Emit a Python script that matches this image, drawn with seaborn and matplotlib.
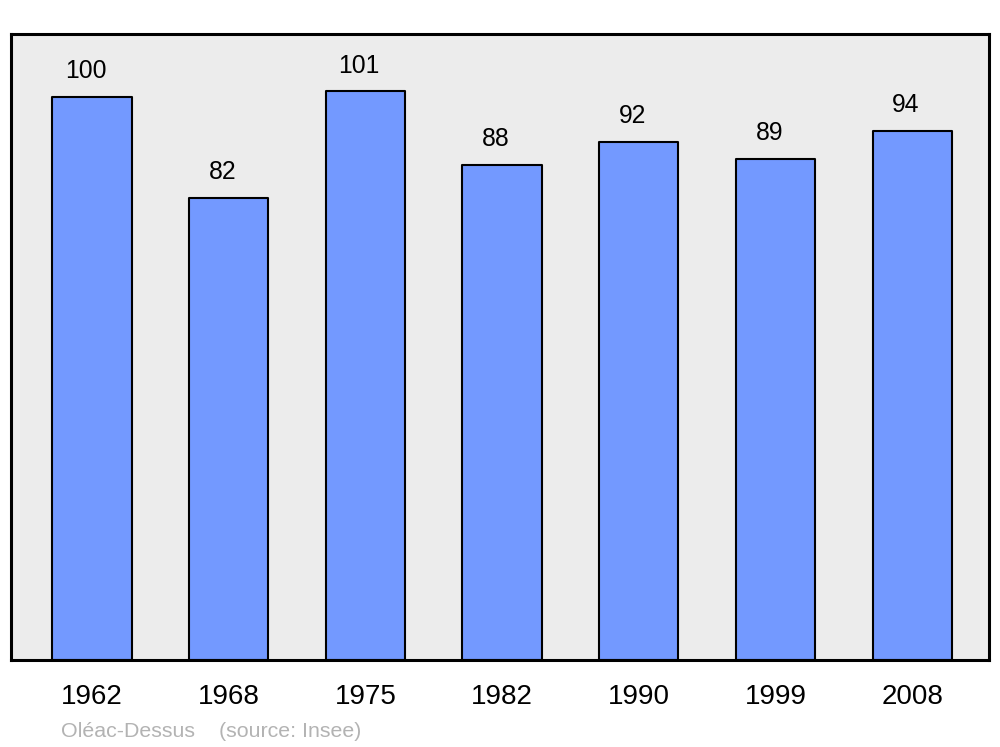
import seaborn as sns
import matplotlib.pyplot as plt
import pandas as pd

years = ["1962", "1968", "1975", "1982", "1990", "1999", "2008"]
population = [100, 82, 101, 88, 92, 89, 94]

df = pd.DataFrame({"year": years, "pop": population})

sns.set_style("white")
plt.rcParams['font.family'] = ['Liberation Sans', 'DejaVu Sans']

fig = plt.figure(figsize=(10, 7.47), dpi=100)
ax = fig.add_axes([0.011, 0.1165, 0.978, 0.838])
ax.set_facecolor("#ececec")

sns.barplot(data=df, x="year", y="pop", color="#7399ff", saturation=1,
            width=0.58, edgecolor="black", linewidth=1.5, ax=ax)
for p in ax.patches:
    p.set_joinstyle("round")

# value labels sit a little left of the bar centre
for i, v in enumerate(population):
    ax.annotate(str(v), (i, v), xytext=(-4.5, 10), textcoords="offset points",
                ha="center", va="bottom", fontsize=17.8, color="black")

ax.set_xlim(-0.593, 6.562)
ax.set_ylim(0, 111.2)
ax.set_yticks([])
ax.set_xlabel("")
ax.set_ylabel("")
ax.tick_params(axis="x", length=0, pad=17, labelsize=20, labelcolor="black")
for s in ax.spines.values():
    s.set_linewidth(2.2)
    s.set_color("black")
    s.set_joinstyle("round")

fig.text(0.061, 0.008, "Oléac-Dessus    (source: Insee)", color="#b3b3b3",
         fontsize=15.4, ha="left", va="bottom")

plt.savefig("out.png", dpi=100)
